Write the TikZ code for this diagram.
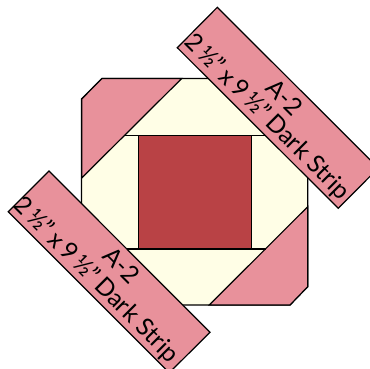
\documentclass[tikz,border=0pt]{standalone}
\usepackage{fontspec}
\setmainfont{Lato}
\definecolor{pinkc}{HTML}{E8919B}
\definecolor{creamc}{HTML}{FFFEE6}
\definecolor{redc}{HTML}{B94245}
\tikzset{
  edge/.style={draw=black,line width=1.2pt,line join=miter},
  striplabel/.style={rotate=-45,inner sep=0pt,font=\fontsize{24.5}{26}\selectfont},
}
\begin{document}
\begin{tikzpicture}[x=1pt,y=-1pt]
\useasboundingbox (0,0) rectangle (370,368);
\clip (0,0) rectangle (370,368);
\fill[white] (0,0) rectangle (370,368);
% cream block
\path[edge,fill=creamc] (81.5,99) -- (102,78.5) -- (240,78.5) -- (307.7,146) -- (307.7,286.7) -- (290,305) -- (150,305) -- (81.5,236) -- cycle;
% corner triangles
\path[edge,fill=pinkc] (81.7,178) -- (81.7,99) -- (102,78.5) -- (181.7,78.5) -- cycle;
\path[edge,fill=pinkc] (307.7,206.7) -- (307.7,286.7) -- (290,305) -- (209.3,305) -- cycle;
% inner lines
\draw[edge] (124.5,135.7) -- (138.3,135.7);
\draw[edge] (251.7,135.7) -- (265,135.7);
\draw[edge] (124.5,249) -- (138.3,249);
\draw[edge] (251.7,249) -- (266,249);
% centre square
\path[edge,fill=redc] (138.3,135.7) rectangle (251.7,249);
% strips
\path[edge,fill=pinkc] (217.3,7.3) -- (177.3,47.7) -- (338.3,208.3) -- (378.3,168) -- cycle;
\path[edge,fill=pinkc] (49,171) -- (8.3,211.7) -- (169.3,372.7) -- (210,332.3) -- cycle;
% labels
\node[striplabel] (a1) at (285,97) {A-2};
\node[striplabel] (b1) at (267,117) {2\,½"\,x\,9\,½"\,Dark Strip};
\node[striplabel] (a2) at (122,265) {A-2};
\node[striplabel] (b2) at (96,280) {2\,½"\,x\,9\,½"\,Dark Strip};
\end{tikzpicture}
\end{document}
